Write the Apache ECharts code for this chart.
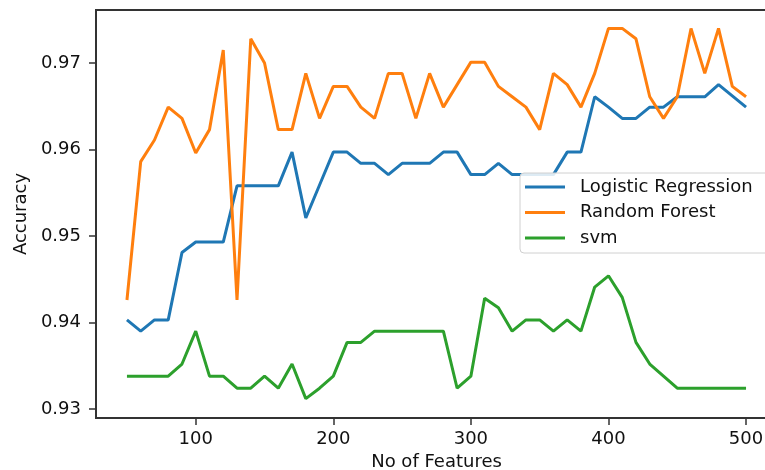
<!DOCTYPE html>
<html>
<head>
<meta charset="utf-8">
<script src="https://cdn.jsdelivr.net/npm/echarts@6/dist/echarts.min.js"></script>
<style>
html,body{margin:0;padding:0;background:#fff;}
#chart{width:765px;height:470px;}
</style>
</head>
<body>
<div id="chart"></div>
<script>
var features = [50,60,70,80,90,100,110,120,130,140,150,160,170,180,190,200,210,220,230,240,250,260,270,280,290,300,310,320,330,340,350,360,370,380,390,400,410,420,430,440,450,460,470,480,490,500];

var logisticRegression = [0.9403,0.9390,0.9403,0.9403,0.9481,0.9493,0.9493,0.9493,0.9558,0.9558,0.9558,0.9558,0.9597,0.9521,0.9559,0.9597,0.9597,0.9584,0.9584,0.9571,0.9584,0.9584,0.9584,0.9597,0.9597,0.9571,0.9571,0.9584,0.9571,0.9571,0.9571,0.9571,0.9597,0.9597,0.9661,0.9649,0.9636,0.9636,0.9649,0.9649,0.9661,0.9661,0.9661,0.9675,0.9662,0.9649];

var randomForest = [0.9426,0.9586,0.9611,0.9649,0.9636,0.9596,0.9623,0.9715,0.9426,0.9728,0.9700,0.9623,0.9623,0.9688,0.9636,0.9673,0.9673,0.9649,0.9636,0.9688,0.9688,0.9636,0.9688,0.9649,0.9675,0.9701,0.9701,0.9673,0.9661,0.9649,0.9623,0.9688,0.9675,0.9649,0.9688,0.9740,0.9740,0.9728,0.9661,0.9636,0.9661,0.9740,0.9688,0.9740,0.9673,0.9661];

var svm = [0.9338,0.9338,0.9338,0.9338,0.9352,0.9390,0.9338,0.9338,0.9324,0.9324,0.9338,0.9324,0.9352,0.9312,0.9324,0.9338,0.9377,0.9377,0.9390,0.9390,0.9390,0.9390,0.9390,0.9390,0.9324,0.9338,0.9428,0.9417,0.9390,0.9403,0.9403,0.9390,0.9403,0.9390,0.9441,0.9454,0.9429,0.9377,0.9352,0.9338,0.9324,0.9324,0.9324,0.9324,0.9324,0.9324];

var xTicks = [100,200,300,400,500];
var yTicks = [0.93,0.94,0.95,0.96,0.97];
var seriesNames = ['Logistic Regression','Random Forest','svm'];
var colors = ['#1f77b4','#ff7f0e','#2ca02c'];

function pairs(ys){ return features.map(function(x,i){ return [x, ys[i]]; }); }

var FONT = 'DejaVu Sans';
var TXT = '#111';

var chart = echarts.init(document.getElementById('chart'), null, {renderer:'canvas'});
chart.setOption({
  animation: false,
  backgroundColor: '#fff',
  color: colors,
  grid: {left: 96, top: 10, width: 681, height: 408, show: true, borderColor: '#333', borderWidth: 2,
    backgroundColor: 'transparent', outerBoundsMode: 'none', containLabel: false},
  xAxis: {
    type: 'value', min: 27.5, max: 522.5,
    name: 'No of Features', nameLocation: 'middle', nameGap: 34,
    nameTextStyle: {fontFamily: FONT, fontSize: 18, color: TXT},
    axisLine: {show: false},
    splitLine: {show: false},
    axisTick: {show: true, length: 7, customValues: xTicks, lineStyle: {color: '#333', width: 1.5}},
    axisLabel: {customValues: xTicks, margin: 12, fontFamily: FONT, fontSize: 18, color: TXT}
  },
  yAxis: {
    type: 'value', min: 0.92896, max: 0.97613,
    name: 'Accuracy', nameLocation: 'middle', nameGap: 61, nameRotate: 90,
    nameTextStyle: {fontFamily: FONT, fontSize: 18, color: TXT},
    axisLine: {show: false},
    splitLine: {show: false},
    axisTick: {show: true, length: 7, customValues: yTicks, lineStyle: {color: '#333', width: 1.5}},
    axisLabel: {customValues: yTicks, margin: 15, fontFamily: FONT, fontSize: 18, color: TXT,
      formatter: function(v){ return v.toFixed(2); }}
  },
  legend: {
    orient: 'vertical', left: 520, top: 173,
    padding: [4, 40, 5, 5],
    icon: 'rect',
    itemWidth: 40, itemHeight: 3, itemGap: 5.5,
    backgroundColor: 'rgba(255,255,255,0.85)',
    borderColor: '#d0d0d0', borderWidth: 1, borderRadius: 4,
    textStyle: {fontFamily: FONT, fontSize: 18, color: TXT, lineHeight: 20, padding: [0,0,0,10]},
    data: seriesNames
  },
  series: [
    {name: seriesNames[0], type: 'line', symbol: 'none', data: pairs(logisticRegression), lineStyle: {width: 3, color: colors[0]}, z: 3},
    {name: seriesNames[1], type: 'line', symbol: 'none', data: pairs(randomForest), lineStyle: {width: 3, color: colors[1]}, z: 3},
    {name: seriesNames[2], type: 'line', symbol: 'none', data: pairs(svm), lineStyle: {width: 3, color: colors[2]}, z: 3}
  ]
});
</script>
</body>
</html>
